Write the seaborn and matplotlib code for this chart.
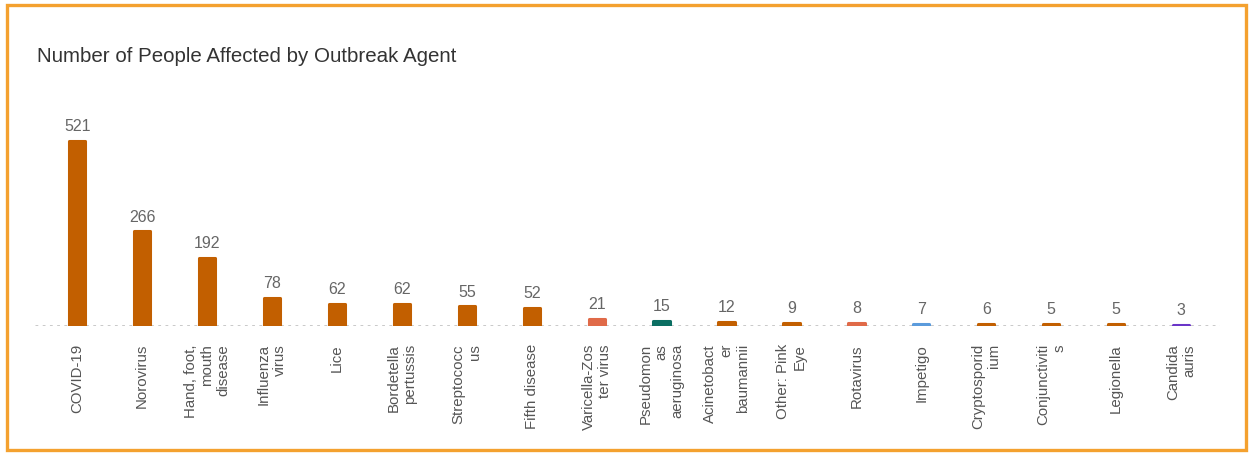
import pandas as pd
import seaborn as sns
import matplotlib.pyplot as plt
from matplotlib.patches import Rectangle

agents = ["COVID-19", "Norovirus", "Hand, foot,\nmouth\ndisease", "Influenza\nvirus", "Lice",
          "Bordetella\npertussis", "Streptococc\nus", "Fifth disease", "Varicella-Zos\nter virus",
          "Pseudomon\nas\naeruginosa", "Acinetobact\ner\nbaumannii", "Other: Pink\nEye", "Rotavirus",
          "Impetigo", "Cryptosporid\nium", "Conjunctiviti\ns", "Legionella", "Candida\nauris"]
people = [521, 266, 192, 78, 62, 62, 55, 52, 21, 15, 12, 9, 8, 7, 6, 5, 5, 3]
bar_colors = ["#c25f00"] * 8 + ["#e06a48", "#0b6e62", "#c25f00", "#c25f00", "#e06a48",
                                 "#5b9bdc", "#c25f00", "#c25f00", "#c25f00", "#6a35c8"]

df = pd.DataFrame({"agent": agents, "people": people})

sns.set_style("white")
plt.rcParams["font.family"] = ["Liberation Sans", "DejaVu Sans"]

fig = plt.figure(figsize=(12.49, 4.54), dpi=100)
ax = fig.add_axes([35 / 1249, 128 / 454, 1185 / 1249, 226 / 454])

sns.barplot(data=df, x="agent", y="people", hue="agent", palette=bar_colors,
            saturation=1, legend=False, width=0.25, ax=ax)
# thick same-colour edge gives rounded corners and a minimum height for tiny bars
for p, c in zip(ax.patches, bar_colors):
    p.set_edgecolor(c)
    p.set_linewidth(2.2)
    p.set_joinstyle("round")

for i, v in enumerate(people):
    ax.annotate(str(v), (i, v), xytext=(0, 5), textcoords="offset points",
                ha="center", va="bottom", fontsize=11.5, color="#666666")

ax.axhline(0, color="#c4c4c4", lw=2, linestyle=(0, (1, 1.6)), zorder=0)
ax.set_xlim(-0.65, 17.6)
ax.set_ylim(0, 636)
ax.set_xlabel("")
ax.set_ylabel("")
ax.set_yticks([])
ax.tick_params(axis="x", length=0, pad=13)
ax.set_xticks(range(len(agents)))
ax.set_xticklabels(agents, rotation=90, ha="center", va="top", multialignment="right",
                   fontsize=10.8, color="#555555")
sns.despine(ax=ax, left=True, bottom=True)

fig.text(37 / 1249, 1 - 62 / 454, "Number of People Affected by Outbreak Agent",
         fontsize=14.8, color="#333333", ha="left", va="baseline")

# orange frame around the card
orange = "#f4a12f"
fig.patches.append(Rectangle((7 / 1249, 4 / 454), 1239 / 1249, 445 / 454, transform=fig.transFigure,
                             fill=False, edgecolor=orange, lw=2.4))

fig.savefig("out.png", dpi=100, facecolor="white")
